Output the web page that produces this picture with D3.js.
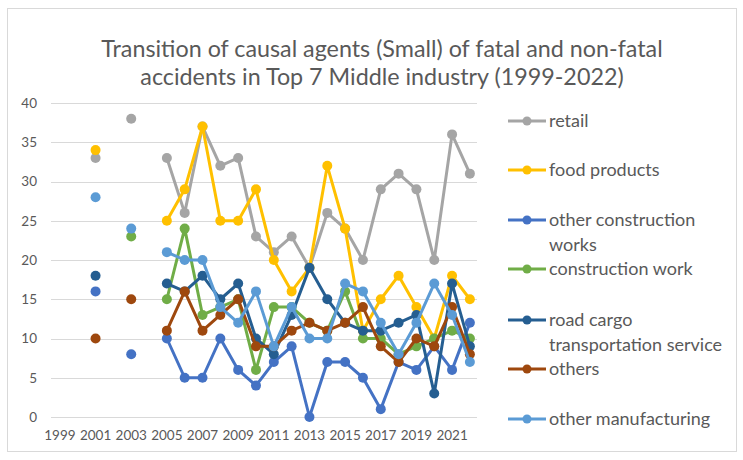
<!DOCTYPE html>
<html><head><meta charset="utf-8">
<script src="https://cdn.jsdelivr.net/npm/d3@7"></script>
<style>
html,body{margin:0;padding:0;background:#fff;}
text{font-family:Lato,"Open Sans",sans-serif;fill:#595959;}
</style></head>
<body><svg id="c" width="743" height="460"></svg>
<script>
const years = d3.range(1999, 2023);
const xTickLabels = ["1999","2001","2003","2005","2007","2009","2011","2013","2015","2017","2019","2021"];
const yTicks = [0,5,10,15,20,25,30,35,40];
const seriesNames = ["retail","food products","other construction works","construction work","road cargo transportation service","others","other manufacturing"];
const seriesColors = ["#A5A5A5","#FFC000","#4472C4","#70AD47","#255E91","#9E480E","#5B9BD5"];
// values for 1999..2022 (null = no data)
const retail      = [null,null,33,null,38,null,33,26,37,32,33,23,21,23,19,26,24,20,29,31,29,20,36,31];
const foodProducts= [null,null,34,null,null,null,25,29,37,25,25,29,20,16,19,32,24,11,15,18,14,10,18,15];
const otherConstr = [null,null,16,null,8,null,10,5,5,10,6,4,7,9,0,7,7,5,1,7,6,9,6,12];
const constrWork  = [null,null,null,null,23,null,15,24,13,14,15,6,14,14,12,11,16,10,10,8,9,10,11,10];
const roadCargo   = [null,null,18,null,null,null,17,16,18,15,17,10,8,13,19,15,12,11,11,12,13,3,17,9];
const others      = [null,null,10,null,15,null,11,16,11,13,15,9,9,11,12,11,12,14,9,7,10,9,14,8];
const otherManuf  = [null,null,28,null,24,null,21,20,20,14,12,16,9,14,10,10,17,16,12,8,12,17,13,7];
const seriesValues = [retail, foodProducts, otherConstr, constrWork, roadCargo, others, otherManuf];
const legendLines = [["retail"],["food products"],["other construction","works"],["construction work"],["road cargo","transportation service"],["others"],["other manufacturing"]];

const svg = d3.select("#c");
svg.append("rect").attr("x",7.5).attr("y",8.5).attr("width",729).attr("height",443)
  .attr("fill","#fff").attr("stroke","#D9D9D9").attr("stroke-width",1);

svg.append("text").attr("x",382).attr("y",57).attr("text-anchor","middle")
  .style("font-size","23.3px").text("Transition of causal agents (Small) of fatal and non-fatal");
svg.append("text").attr("x",382).attr("y",85).attr("text-anchor","middle")
  .style("font-size","23.3px").text("accidents in Top 7 Middle industry (1999-2022)");

const x = d3.scaleBand().domain(years).range([51, 478.8]);
const y = d3.scaleLinear().domain([0,40]).range([417,103]);

const grid = svg.append("g");
grid.selectAll("line").data(yTicks).join("line")
  .attr("x1",51).attr("x2",477).attr("y1",d=>Math.round(y(d))+0.5).attr("y2",d=>Math.round(y(d))+0.5)
  .attr("stroke","#D9D9D9").attr("stroke-width",1);

const yAxis = svg.append("g").attr("transform","translate(51,0)")
  .call(d3.axisLeft(y).tickValues(yTicks).tickSize(0).tickPadding(14));
yAxis.select(".domain").remove();
yAxis.selectAll("text").style("font-size","13.5px").style("fill","#595959").style("font-family","Lato");

const xAxis = svg.append("g").attr("transform","translate(0,417)")
  .call(d3.axisBottom(x).tickValues(xTickLabels.map(Number)).tickSize(0).tickPadding(13));
xAxis.select(".domain").remove();
xAxis.selectAll("text").style("font-size","13.5px").style("fill","#595959").style("font-family","Lato");

const cx = d => x(d) + x.bandwidth()/2;
const line = d3.line().defined(d=>d[1]!=null).x(d=>cx(d[0])).y(d=>y(d[1]));

seriesValues.forEach((vals,i)=>{
  const pts = years.map((yr,j)=>[yr, vals[j]]);
  const g = svg.append("g");
  g.append("path").attr("d", line(pts)).attr("fill","none")
    .attr("stroke",seriesColors[i]).attr("stroke-width",3).attr("stroke-linejoin","round");
  g.selectAll("circle").data(pts.filter(p=>p[1]!=null)).join("circle")
    .attr("cx",p=>cx(p[0])).attr("cy",p=>y(p[1])).attr("r",5).attr("fill",seriesColors[i]);
});

const legendY = [121,170,220,269,320,369,419];
const lg = svg.append("g");
legendLines.forEach((lines,i)=>{
  const yy = legendY[i];
  lg.append("line").attr("x1",508).attr("x2",546).attr("y1",yy).attr("y2",yy)
    .attr("stroke",seriesColors[i]).attr("stroke-width",3);
  lg.append("circle").attr("cx",527).attr("cy",yy).attr("r",4.5).attr("fill",seriesColors[i]);
  lines.forEach((t,k)=>{
    lg.append("text").attr("x",549).attr("y",yy+6+k*25).style("font-size","18px").text(t);
  });
});
</script></body></html>
